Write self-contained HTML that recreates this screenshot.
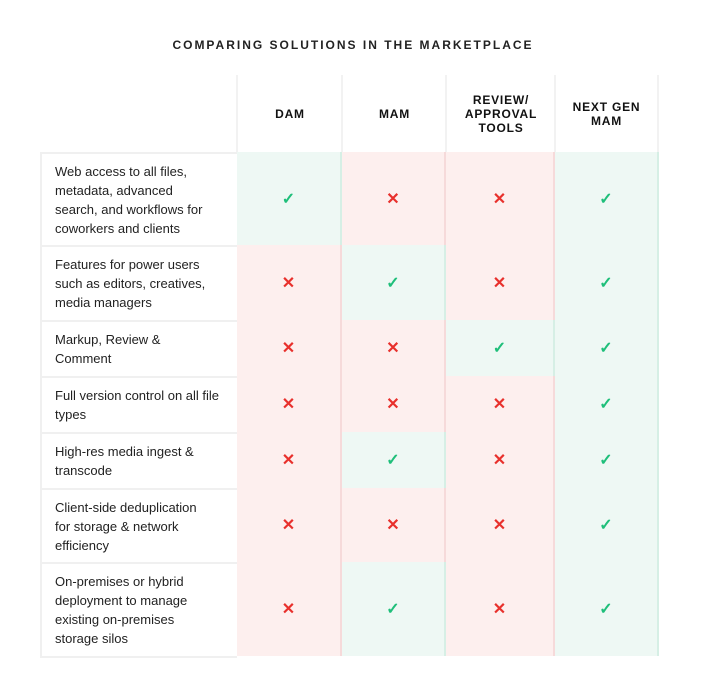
<!DOCTYPE html>
<html><head><meta charset="utf-8">
<style>
body{margin:0;background:#fff;width:706px;height:689px;position:relative;font-family:"Liberation Sans",sans-serif;overflow:hidden}
.t{position:absolute;left:0;width:706px;top:38px;text-align:center;font-weight:bold;font-size:12px;letter-spacing:2px;color:#222}
.h{position:absolute;display:flex;align-items:center;justify-content:center;text-align:center;font-weight:bold;font-size:12px;letter-spacing:0.8px;line-height:14px;color:#111;border-left:2px solid #f2f2f2;box-sizing:border-box}
.l{position:absolute;left:40px;width:197px;box-sizing:border-box;border:2px solid #f0f0f0;border-right:none;border-bottom:none;display:flex;align-items:center;padding-left:13px;font-size:13px;line-height:19px;color:#222}
.c{position:absolute;box-sizing:border-box;display:flex;align-items:center;justify-content:center;font-size:16px;font-weight:bold}
.y{background:#eef8f4;border-right:2px solid #d6efe5;color:#1fbf7a}
.n{background:#fdefee;border-right:2px solid #f6dada;color:#e8302c}
</style></head><body>
<div class="t">COMPARING SOLUTIONS IN THE MARKETPLACE</div>
<div id="tbl"></div>
<div class="l" style="top:656px;height:2px;border:none;background:#f0f0f0"></div>
<script>
const columns=["DAM","MAM","REVIEW/<br>APPROVAL<br>TOOLS","NEXT GEN<br>MAM"];
const features=["Web access to all files,<br>metadata, advanced<br>search, and workflows for<br>coworkers and clients","Features for power users<br>such as editors, creatives,<br>media managers","Markup, Review &amp;<br>Comment","Full version control on all file<br>types","High-res media ingest &amp;<br>transcode","Client-side deduplication<br>for storage &amp; network<br>efficiency","On-premises or hybrid<br>deployment to manage<br>existing on-premises<br>storage silos"];
const support=[[1,0,0,1],[0,1,0,1],[0,0,1,1],[0,0,0,1],[0,1,0,1],[0,0,0,1],[0,1,0,1]];
const colX=[237,342,446,555,659];
const rowY=[152,245,320,376,432,488,562,656];
const tbl=document.getElementById('tbl');
columns.forEach((c,i)=>{
 const d=document.createElement('div');d.className='h';
 
 
 d.style.cssText=`left:${colX[i]-1}px;width:${colX[i+1]-colX[i]+1}px;top:75px;height:77px;${i==columns.length-1?'border-right:2px solid #f2f2f2;':''}`;
 d.innerHTML=c;tbl.appendChild(d);
});
features.forEach((f,r)=>{
 const d=document.createElement('div');d.className='l';
 
 
 d.style.top=rowY[r]+'px';d.style.height=(rowY[r+1]-rowY[r])+'px';
 d.innerHTML=f;tbl.appendChild(d);
 support[r].forEach((v,i)=>{
  const c=document.createElement('div');c.className='c '+(v?'y':'n');
  
  
  c.style.cssText=`left:${colX[i]}px;width:${colX[i+1]-colX[i]}px;top:${rowY[r]}px;height:${rowY[r+1]-rowY[r]}px`;
  c.textContent=v?'✓':'✕';tbl.appendChild(c);
 });
});
</script>
</body></html>
